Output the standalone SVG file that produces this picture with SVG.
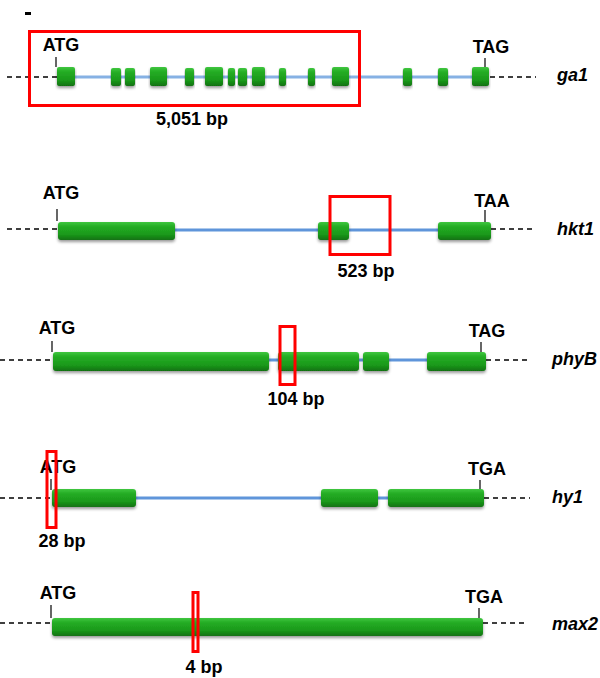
<svg xmlns="http://www.w3.org/2000/svg" width="600" height="678" viewBox="0 0 600 678">
<defs>
<linearGradient id="exg" x1="0" y1="0" x2="0" y2="1">
<stop offset="0" stop-color="#3fc63f"/>
<stop offset="0.25" stop-color="#25ad25"/>
<stop offset="0.7" stop-color="#1a981a"/>
<stop offset="1" stop-color="#117011"/>
</linearGradient>
<filter id="sh" x="-10%" y="-20%" width="120%" height="160%">
<feDropShadow dx="0" dy="2" stdDeviation="1.4" flood-color="#000" flood-opacity="0.4"/>
</filter>
<style>
.ex{fill:url(#exg);filter:url(#sh)}
.intr{stroke:#5f95da;stroke-width:2.8;fill:none}
.ga1i{stroke:#86b1e4}
.dash{stroke:#000;stroke-width:1.5;stroke-dasharray:5 4;fill:none}
.tick{stroke:#000;stroke-width:1.2}
.lab{font-family:"Liberation Sans",Arial,sans-serif;font-weight:bold;font-size:18px;fill:#000}
.gn{font-family:"Liberation Sans",Arial,sans-serif;font-weight:bold;font-style:italic;font-size:18px;fill:#000}
.red{fill:none;stroke:#ff0000;stroke-width:3}
</style>
</defs>
<rect width="600" height="678" fill="#fff"/>
<rect x="25" y="12" width="6" height="3" fill="#000"/>

<g id="connectors">
<line class="intr ga1i" x1="60" y1="77" x2="486" y2="77"/>
<line class="dash" x1="7" y1="77" x2="57" y2="77"/>
<line class="dash" x1="490" y1="77" x2="536" y2="77"/>
<line class="intr" x1="170" y1="230" x2="440" y2="230"/>
<line class="dash" x1="7" y1="229" x2="58" y2="229"/>
<line class="dash" x1="491" y1="229" x2="535" y2="229"/>
<line class="intr" x1="265" y1="360" x2="430" y2="360"/>
<line class="dash" x1="0" y1="360" x2="53" y2="360"/>
<line class="dash" x1="486" y1="360" x2="530" y2="360"/>
<line class="intr" x1="130" y1="498" x2="390" y2="498"/>
<line class="dash" x1="0" y1="498" x2="52" y2="498"/>
<line class="dash" x1="484" y1="498" x2="530" y2="498"/>
<line class="dash" x1="0" y1="623" x2="52" y2="623"/>
<line class="dash" x1="483" y1="623" x2="528" y2="623"/>
</g>

<g id="ga1">
<rect class="ex" x="57" y="67" width="18" height="19" rx="2"/>
<rect class="ex" x="111" y="68" width="10" height="18" rx="2"/>
<rect class="ex" x="125" y="68" width="10" height="18" rx="2"/>
<rect class="ex" x="150" y="67" width="17" height="19" rx="2"/>
<rect class="ex" x="185" y="68" width="9" height="18" rx="2"/>
<rect class="ex" x="205" y="67" width="18" height="19" rx="2"/>
<rect class="ex" x="228" y="68" width="7" height="18" rx="2"/>
<rect class="ex" x="238" y="68" width="9" height="18" rx="2"/>
<rect class="ex" x="252" y="67" width="13" height="19" rx="2"/>
<rect class="ex" x="279" y="68" width="7" height="18" rx="2"/>
<rect class="ex" x="308" y="68" width="7" height="18" rx="2"/>
<rect class="ex" x="332" y="67" width="17" height="19" rx="2"/>
<rect class="ex" x="403" y="68" width="9" height="18" rx="2"/>
<rect class="ex" x="438" y="68" width="10" height="18" rx="2"/>
<rect class="ex" x="472" y="67" width="17" height="19" rx="2"/>
<line class="tick" x1="56" y1="57" x2="56" y2="67"/>
<line class="tick" x1="485" y1="58" x2="485" y2="67"/>
<text class="lab" x="61" y="51" text-anchor="middle">ATG</text>
<text class="lab" x="491" y="53" text-anchor="middle">TAG</text>
<text class="gn" x="557" y="81">ga1</text>
<rect class="red" x="29.5" y="31.5" width="330" height="74"/>
<text class="lab" x="192" y="125" text-anchor="middle">5,051 bp</text>
</g>

<g id="hkt1">
<rect class="ex" x="58" y="222" width="117" height="18" rx="3"/>
<rect class="ex" x="318" y="222" width="31" height="18" rx="3"/>
<rect class="ex" x="438" y="222" width="53" height="18" rx="3"/>
<line class="tick" x1="57" y1="209" x2="57" y2="221"/>
<line class="tick" x1="485" y1="210" x2="485" y2="222"/>
<text class="lab" x="61" y="199" text-anchor="middle">ATG</text>
<text class="lab" x="492" y="207" text-anchor="middle">TAA</text>
<text class="gn" x="557" y="235">hkt1</text>
<rect class="red" x="330" y="196.5" width="60" height="58"/>
<text class="lab" x="366" y="277" text-anchor="middle">523 bp</text>
</g>

<g id="phyB">
<rect class="ex" x="53" y="352" width="216" height="19" rx="3"/>
<rect class="ex" x="278" y="352" width="81" height="19" rx="3"/>
<rect class="ex" x="363" y="352" width="26" height="19" rx="3"/>
<rect class="ex" x="427" y="352" width="59" height="19" rx="3"/>
<line class="tick" x1="52" y1="341" x2="52" y2="352"/>
<line class="tick" x1="481" y1="342" x2="481" y2="352"/>
<text class="lab" x="57" y="334" text-anchor="middle">ATG</text>
<text class="lab" x="487" y="337" text-anchor="middle">TAG</text>
<text class="gn" x="552" y="365">phyB</text>
<rect class="red" x="280" y="326.5" width="15" height="58"/>
<text class="lab" x="296" y="405" text-anchor="middle">104 bp</text>
</g>

<g id="hy1">
<rect class="ex" x="52" y="489" width="84" height="18" rx="3"/>
<rect class="ex" x="321" y="489" width="57" height="18" rx="3"/>
<rect class="ex" x="388" y="489" width="96" height="18" rx="3"/>
<line class="tick" x1="51" y1="479" x2="51" y2="490"/>
<line class="tick" x1="480" y1="480" x2="480" y2="489"/>
<text class="lab" x="58" y="473" text-anchor="middle">ATG</text>
<text class="lab" x="487" y="475" text-anchor="middle">TGA</text>
<text class="gn" x="552" y="503">hy1</text>
<rect class="red" x="47" y="451.5" width="9" height="76"/>
<text class="lab" x="62" y="547" text-anchor="middle">28 bp</text>
</g>

<g id="max2">
<rect class="ex" x="52" y="618" width="431" height="18" rx="3"/>
<line class="tick" x1="51" y1="605" x2="51" y2="618"/>
<line class="tick" x1="479" y1="608" x2="479" y2="618"/>
<text class="lab" x="58" y="599" text-anchor="middle">ATG</text>
<text class="lab" x="484" y="603" text-anchor="middle">TGA</text>
<text class="gn" x="552" y="630">max2</text>
<rect class="red" x="193" y="592.5" width="5" height="59" stroke-width="2.5"/>
<text class="lab" x="204" y="673" text-anchor="middle">4 bp</text>
</g>
</svg>
